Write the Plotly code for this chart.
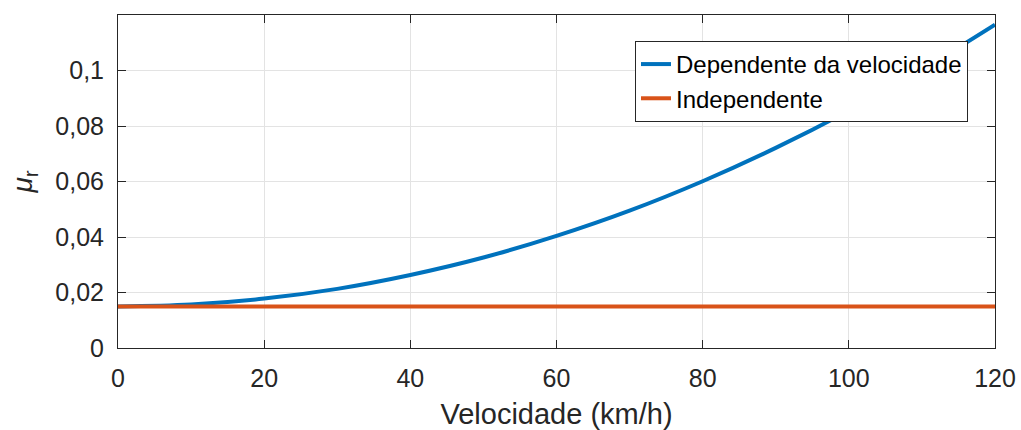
import plotly.graph_objects as go

velocidade = [0, 10, 20, 30, 40, 50, 60, 70, 80, 90, 100, 110, 120]
mu_dependente = [0.0150, 0.0157, 0.0178, 0.0213, 0.0263, 0.0326, 0.0404,
                 0.0495, 0.0601, 0.0721, 0.0855, 0.1003, 0.1165]
mu_independente = [0.015] * len(velocidade)

x_ticks = [0, 20, 40, 60, 80, 100, 120]
y_ticks = [0, 0.02, 0.04, 0.06, 0.08, 0.1]

fig = go.Figure()
fig.add_trace(go.Scatter(x=velocidade, y=mu_dependente, mode="lines",
                         name="Dependente da velocidade",
                         line=dict(color="#0072BD", width=4, shape="spline")))
fig.add_trace(go.Scatter(x=velocidade, y=mu_independente, mode="lines",
                         name="Independente",
                         line=dict(color="#D95319", width=4)))

axis_common = dict(showline=True, linecolor="#262626", linewidth=1, mirror="ticks",
                   ticks="inside", ticklen=8, tickcolor="#262626",
                   showgrid=True, gridcolor="#E3E3E3", gridwidth=1,
                   zeroline=False, automargin=False,
                   tickfont=dict(family="Liberation Sans, Arial", size=25, color="#262626"))

fig.update_layout(
    width=1021, height=430,
    margin=dict(l=118, r=26, t=15, b=82),
    plot_bgcolor="white", paper_bgcolor="white",
    separators=",.",
    font=dict(family="Liberation Sans, Arial", color="#262626"),
    xaxis=dict(range=[0, 120], tickvals=x_ticks, ticklabelstandoff=8,
               title=dict(text="Velocidade (km/h)", standoff=14,
                          font=dict(size=29, color="#262626")),
               **axis_common),
    yaxis=dict(range=[0, 0.12], tickvals=y_ticks, ticklabelstandoff=8,
               title=dict(text="<i>μ</i><sub>r</sub>", standoff=14,
                          font=dict(size=28, color="#262626")),
               **axis_common),
    legend=dict(x=(968 - 118) / 877, y=0.922, xanchor="right", yanchor="top",
                bgcolor="white", bordercolor="#262626", borderwidth=1,
                font=dict(family="Liberation Sans, Arial", size=24, color="black"),
                tracegroupgap=0),
    showlegend=True,
)

fig.write_html("out.html")
